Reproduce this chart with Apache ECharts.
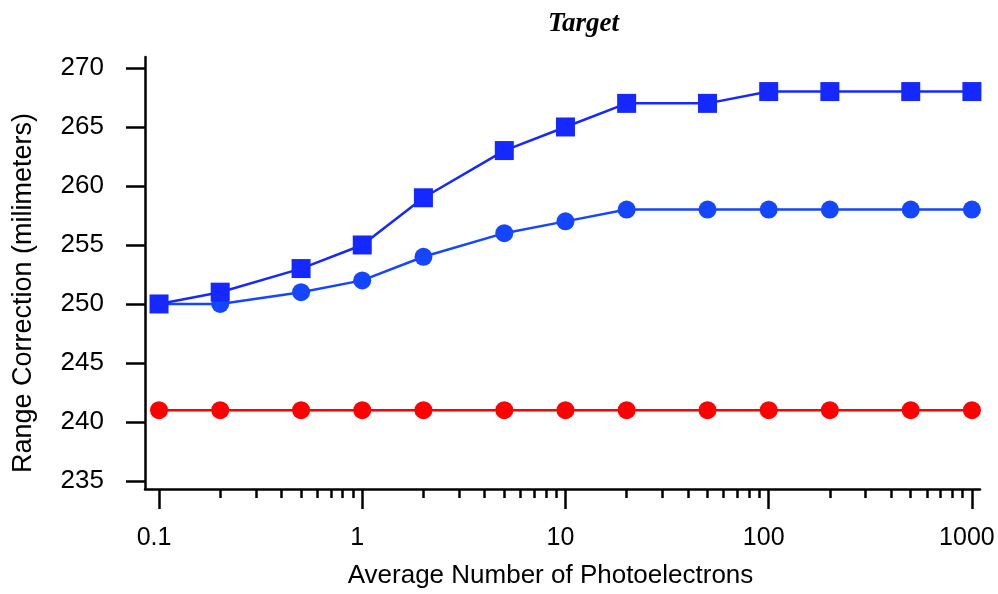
<!DOCTYPE html>
<html>
<head>
    <meta charset="utf-8">
    <title>Target</title>
    <script src="https://cdn.jsdelivr.net/npm/echarts@6/dist/echarts.min.js"></script>
    <style>
        html, body { margin: 0; padding: 0; background: #fff; }
    </style>
</head>
<body>
    <div id="main" style="width: 998px;height:594px;"></div>
    <script type="text/javascript">
        // photoelectron counts (x, log scale)
        var photoelectrons = [0.1, 0.2, 0.5, 1, 2, 5, 10, 20, 50, 100, 200, 500, 1000];
        // range corrections in mm
        var squareSeries = [250, 251, 253, 255, 259, 263, 265, 267, 267, 268, 268, 268, 268];
        var circleSeries = [250, 250, 251, 252, 254, 256, 257, 258, 258, 258, 258, 258, 258];
        var redSeries = [241, 241, 241, 241, 241, 241, 241, 241, 241, 241, 241, 241, 241];

        var xMajorTicks = [0.1, 1, 10, 100, 1000];
        var xMinorTicks = [0.2, 0.3, 0.4, 0.5, 0.6, 0.7, 0.8, 0.9,
            2, 3, 4, 5, 6, 7, 8, 9,
            20, 30, 40, 50, 60, 70, 80, 90,
            200, 300, 400, 500, 600, 700, 800, 900];
        var yTicks = [235, 240, 245, 250, 255, 260, 265, 270];

        function pairs(ys) {
            return photoelectrons.map(function (x, i) { return [x, ys[i]]; });
        }

        var font = 'Liberation Sans, Arial, sans-serif';
        var xMin = 0.0853, xMax = 1096;

        var myChart = echarts.init(document.getElementById('main'));
        var option = {
            animation: false,
            title: {
                text: 'Target',
                left: 543,
                top: 6,
                textStyle: {
                    fontFamily: 'Liberation Serif, Times New Roman, serif',
                    fontStyle: 'italic',
                    fontWeight: 'bold',
                    fontSize: 27,
                    color: '#000'
                }
            },
            grid: {
                left: 145,
                right: 18,
                top: 57,
                bottom: 105,
                containLabel: false,
                outerBoundsMode: 'none'
            },
            xAxis: [{
                type: 'log',
                logBase: 10,
                min: xMin,
                max: xMax,
                name: 'Average Number of Photoelectrons',
                nameLocation: 'middle',
                nameGap: 74,
                nameTextStyle: { fontFamily: font, fontSize: 26, color: '#000', padding: [0, 24, 0, 0] },
                axisLine: { lineStyle: { color: '#000', width: 2.5 } },
                axisTick: {
                    customValues: xMajorTicks,
                    length: 20,
                    lineStyle: { color: '#000', width: 2.5 }
                },
                axisLabel: {
                    customValues: xMajorTicks,
                    margin: 37,
                    fontFamily: font,
                    fontSize: 25,
                    color: '#000',
                    padding: [0, 10, 0, 0],
                    formatter: function (v) { return String(v); }
                },
                splitLine: { show: false }
            }, {
                type: 'log',
                logBase: 10,
                min: xMin,
                max: xMax,
                position: 'bottom',
                axisLine: { show: false },
                axisTick: {
                    customValues: xMinorTicks,
                    length: 9,
                    lineStyle: { color: '#000', width: 2.5 }
                },
                axisLabel: { show: false },
                splitLine: { show: false }
            }],
            yAxis: {
                type: 'value',
                min: 234.32,
                max: 270.93,
                name: 'Range Correction (milimeters)',
                nameLocation: 'middle',
                nameGap: 108,
                nameTextStyle: { fontFamily: font, fontSize: 27, color: '#000', padding: [0, 40, 0, 0] },
                axisLine: { show: true, lineStyle: { color: '#000', width: 2.5 } },
                axisTick: {
                    show: true,
                    customValues: yTicks,
                    length: 19,
                    lineStyle: { color: '#000', width: 2.5 }
                },
                axisLabel: {
                    customValues: yTicks,
                    margin: 41,
                    fontFamily: font,
                    fontSize: 26,
                    color: '#000'
                },
                splitLine: { show: false }
            },
            series: [{
                name: 'red',
                type: 'line',
                data: pairs(redSeries),
                symbol: 'circle',
                symbolSize: 18,
                itemStyle: { color: '#ff0000' },
                lineStyle: { color: '#ff0000', width: 2.5 }
            }, {
                name: 'circles',
                type: 'line',
                data: pairs(circleSeries),
                symbol: 'circle',
                symbolSize: 18,
                itemStyle: { color: '#1446ff' },
                lineStyle: { color: '#1446ff', width: 2.5 }
            }, {
                name: 'squares',
                type: 'line',
                data: pairs(squareSeries),
                symbol: 'rect',
                symbolSize: 19,
                itemStyle: { color: '#1428ff' },
                lineStyle: { color: '#1428ff', width: 2.5 }
            }]
        };

        myChart.setOption(option);
    </script>
</body>
</html>
